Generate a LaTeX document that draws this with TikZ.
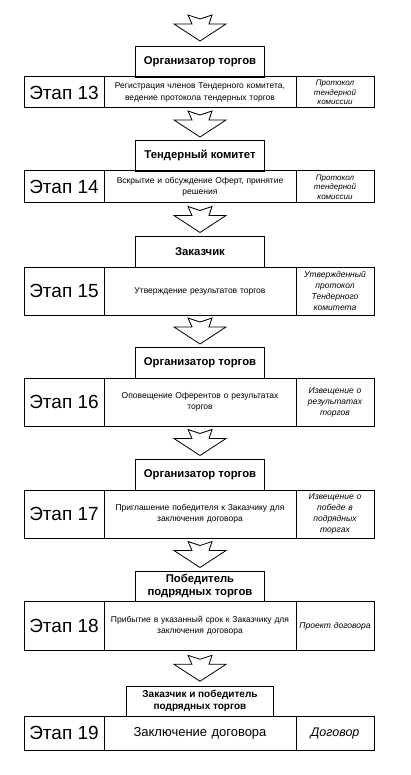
\documentclass[tikz,border=0pt]{standalone}
\usepackage{fontspec}
\setmainfont{Liberation Sans}
\usetikzlibrary{positioning,calc}

\begin{document}
\begin{tikzpicture}[x=1pt,y=-1pt,
  numcell/.style={draw,line width=1pt,minimum width=80pt,inner sep=1pt,outer sep=0pt,
    font=\fontsize{19}{19}\selectfont},
  actcell/.style={draw,line width=1pt,text width=188pt,inner sep=2pt,outer sep=0pt,
    align=center,font=\fontsize{8.5}{11.5}\selectfont},
  doccell/.style={draw,line width=1pt,text width=76pt,inner sep=1pt,outer sep=0pt,
    align=center,font=\fontsize{8.5}{11}\selectfont\itshape},
  tight/.style={inner ysep=0pt,font=\fontsize{8}{9.6}\selectfont\itshape},
  actor/.style={draw,line width=0.9pt,minimum width=129pt,minimum height=31pt,outer sep=0pt,
    align=center,font=\fontsize{11.3}{13}\selectfont\bfseries},
  flow/.pic={\draw[line width=0.8pt,line join=miter]
    (-12,-13) -- (0,-9) -- (12,-13) -- (9,-4) -- (26,-4) -- (0,13) -- (-26,-4) -- (-8,-4) -- cycle;},
]
  \useasboundingbox (0,0) rectangle (411,775);

  % Этап 13
  \node[actcell,minimum height=31pt] (act13) at (200,92.5)
    {Регистрация членов Тендерного комитета,\\ведение протокола тендерных торгов};
  \node[numcell,minimum height=31pt,left=0pt of act13] (num13) {Этап 13};
  \node[doccell,tight,minimum height=31pt,right=0pt of act13] (doc13) {Протокол\\тендерной\\комиссии};
  \node[actor,above=0pt of act13] (org13) {Организатор торгов};
  \pic at ([yshift=18pt]org13.north) {flow};

  % Этап 14
  \node[actor,below=32pt of act13] (org14) {Тендерный комитет};
  \node[actcell,minimum height=32pt,below=0pt of org14] (act14)
    {Вскрытие и обсуждение Оферт, принятие\\решения};
  \node[numcell,minimum height=32pt,left=0pt of act14] (num14) {Этап 14};
  \node[doccell,tight,minimum height=32pt,right=0pt of act14] (doc14) {Протокол\\тендерной\\комиссии};
  \pic at ($(act13.south)!0.5!(org14.north)$) {flow};

  % Этап 15
  \node[actor,below=33pt of act14] (org15) {Заказчик};
  \node[actcell,minimum height=48pt,below=0pt of org15] (act15) {Утверждение результатов торгов};
  \node[numcell,minimum height=48pt,left=0pt of act15] (num15) {Этап 15};
  \node[doccell,minimum height=48pt,right=0pt of act15] (doc15)
    {Утвержденный\\протокол\\Тендерного\\комитета};
  \pic at ($(act14.south)!0.5!(org15.north)$) {flow};

  % Этап 16
  \node[actor,below=32pt of act15] (org16) {Организатор торгов};
  \node[actcell,minimum height=48pt,below=0pt of org16] (act16)
    {Оповещение Оферентов о результатах\\торгов};
  \node[numcell,minimum height=48pt,left=0pt of act16] (num16) {Этап 16};
  \node[doccell,minimum height=48pt,right=0pt of act16] (doc16) {Извещение о\\результатах\\торгов};
  \pic at ($(act15.south)!0.5!(org16.north)$) {flow};

  % Этап 17
  \node[actor,below=33pt of act16] (org17) {Организатор торгов};
  \node[actcell,minimum height=48pt,below=0pt of org17] (act17)
    {Приглашение победителя к Заказчику для\\заключения договора};
  \node[numcell,minimum height=48pt,left=0pt of act17] (num17) {Этап 17};
  \node[doccell,minimum height=48pt,right=0pt of act17] (doc17)
    {Извещение о\\победе в\\подрядных\\торгах};
  \pic at ($(act16.south)!0.5!(org17.north)$) {flow};

  % Этап 18
  \node[actor,minimum height=30pt,below=33pt of act17] (win18) {Победитель\\подрядных торгов};
  \node[actcell,minimum height=49pt,below=0pt of win18] (act18)
    {Прибытие в указанный срок к Заказчику для\\заключения договора};
  \node[numcell,minimum height=49pt,left=0pt of act18] (num18) {Этап 18};
  \node[doccell,minimum height=49pt,right=0pt of act18] (doc18) {Проект договора};
  \pic at ($(act17.south)!0.5!(win18.north)$) {flow};

  % Этап 19
  \node[actor,minimum width=147pt,minimum height=30pt,below=36pt of act18,
    font=\fontsize{10}{12}\selectfont\bfseries] (both19) {Заказчик и победитель\\подрядных торгов};
  \node[actcell,minimum height=34pt,below=0pt of both19,
    font=\fontsize{13}{15}\selectfont] (act19) {Заключение договора};
  \node[numcell,minimum height=34pt,left=0pt of act19] (num19) {Этап 19};
  \node[doccell,minimum height=34pt,right=0pt of act19,
    font=\fontsize{12.5}{15}\selectfont\itshape] (doc19) {Договор};
  \pic at ($(act18.south)!0.5!(both19.north)$) {flow};
\end{tikzpicture}
\end{document}
